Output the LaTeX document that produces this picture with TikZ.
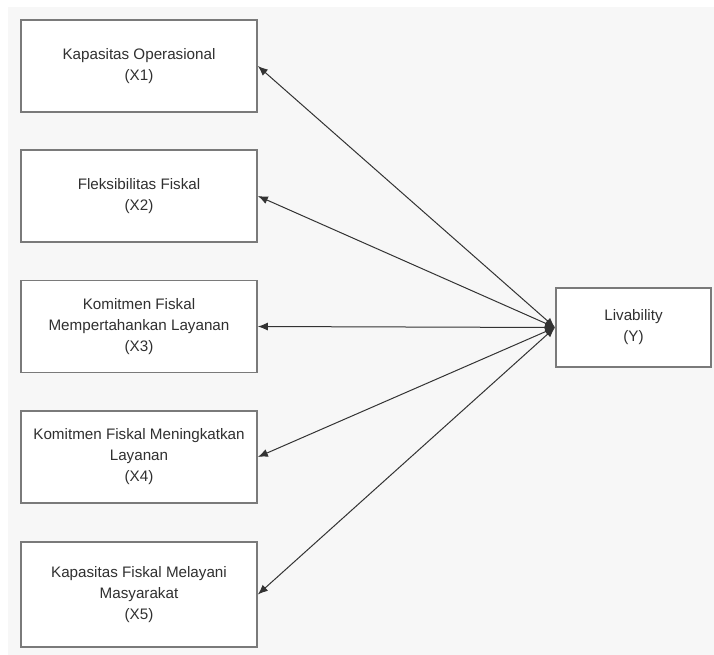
\documentclass[tikz,border=0pt]{standalone}
\usepackage{fontspec}
\setmainfont{Liberation Sans}
\usetikzlibrary{arrows.meta}
\definecolor{pagebg}{HTML}{F7F7F7}
\definecolor{boxline}{HTML}{7A7A7A}
\definecolor{txt}{HTML}{303030}
\begin{document}
\begin{tikzpicture}[x=1pt, y=-1pt, >={Latex[length=10pt,width=8pt]},
    var/.style={draw=boxline, line width=1.7pt, fill=white, text=txt, align=center,
        minimum width=236pt, minimum height=92pt, inner sep=0pt,
        font=\fontsize{15.2}{21}\selectfont},
    path/.style={<->, draw=black!80, line width=1pt}]
    \useasboundingbox (0,0) rectangle (714,655);
    \fill[white] (0,0) rectangle (714,655);
    \fill[pagebg] (8,7) rectangle (714,655);

    \node[var] (x1) at (139,66) {Kapasitas Operasional\\(X1)};
    \node[var] (x2) at (139,196) {Fleksibilitas Fiskal\\(X2)};
    \node[var] (x3) at (139,326.5) {Komitmen Fiskal\\Mempertahankan Layanan\\(X3)};
    \node[var] (x4) at (139,457) {Komitmen Fiskal Meningkatkan\\Layanan\\(X4)};
    \node[var, minimum height=105pt] (x5) at (139,594.5) {Kapasitas Fiskal Melayani\\Masyarakat\\(X5)};
    \node[var, minimum width=155pt, minimum height=79pt] (y) at (633.5,327.5) {Livability\\(Y)};

    \coordinate (hub) at (555,327.5);
    \foreach \v in {x1,x2,x3,x4,x5}
        \draw[path] (hub)--(\v.east);
\end{tikzpicture}
\end{document}
